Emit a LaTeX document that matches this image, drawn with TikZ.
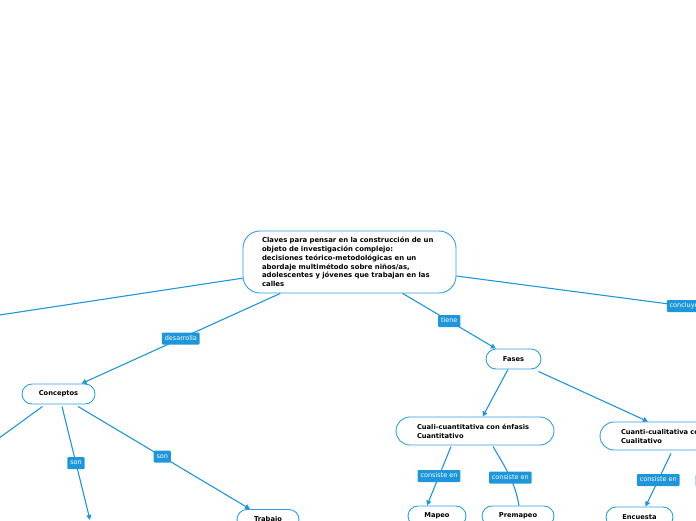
\documentclass[tikz,border=0pt]{standalone}
\usepackage{fontspec}
\setmainfont{DejaVu Sans}
\usetikzlibrary{arrows.meta}
\definecolor{lb}{RGB}{30,150,220}
\definecolor{nb}{RGB}{45,160,228}
\begin{document}
\begin{tikzpicture}[x=1pt,y=-1pt,
  box/.style={draw=nb, line width=0.9pt, fill=white, rounded corners=10pt, inner sep=0pt,
    font=\bfseries\fontsize{6.7}{8.8}\selectfont, minimum height=20pt},
  lbl/.style={fill=lb, text=white, rounded corners=1pt, font=\fontsize{6.5}{7}\selectfont,
    inner xsep=2.8pt, inner ysep=0pt, minimum height=12pt, text height=4.6pt, text depth=1.4pt},
  con/.style={draw=lb, line width=1.1pt},
  arr/.style={con, -{Triangle[length=5pt,width=5pt]}}]
\useasboundingbox (0,0) rectangle (696,520);
\clip (0,0) rectangle (696,520);

\node[box, rounded corners=17pt, minimum width=213pt, minimum height=62pt, text width=175pt, align=left,
  font=\bfseries\fontsize{6.9}{8.8}\selectfont] (main) at (349.5,262)
 {Claves para pensar en la construcción de un\\objeto de investigación complejo:\\decisiones teórico-metodológicas en un\\abordaje multimétodo sobre niños/as,\\adolescentes y jóvenes que trabajan en las\\calles};
\node[box, minimum width=73pt] (conceptos) at (58.5,394) {Conceptos};
\node[box, minimum width=55pt] (fases) at (513.5,359) {Fases};
\node[box, rounded corners=14pt, minimum width=158pt, minimum height=28pt, text width=116pt, align=left] (cuali) at (475,431)
 {Cuali-cuantitativa con énfasis\\Cuantitativo};
\node[box, rounded corners=14pt, minimum width=158pt, minimum height=28pt, text width=116pt, align=left] (cuanti) at (679,436)
 {Cuanti-cualitativa con énfasis\\Cualitativo};
\node[box, minimum width=58pt] (mapeo) at (437,516) {Mapeo};
\node[box, minimum width=72pt] (premapeo) at (518,516) {Premapeo};
\node[box, minimum width=67pt] (encuesta) at (639.5,517) {Encuesta};
\node[box, minimum width=62pt] (trabajo) at (268,519.5) {Trabajo};

\coordinate (L1) at (-40,321);
\coordinate (R1) at (760,316);
\coordinate (L2) at (-20,452);
\coordinate (B1) at (90,520);
\coordinate (R2) at (759,540);

\draw[con] (main) -- (L1);
\draw[arr] (main) -- node[lbl, pos=.5] {desarrolla} (conceptos);
\draw[arr] (main) -- node[lbl, pos=.5] {tiene} (fases);
\draw[con] (main) -- node[lbl, pos=.75] {concluye} (R1);
\draw[arr] (fases) -- (cuali);
\draw[arr] ([xshift=-3pt,yshift=-2pt]fases.south east) -- ([xshift=-31pt]cuanti.north);
\draw[arr] ([xshift=-24pt,yshift=-1pt]cuali.south) -- node[lbl, pos=.5] {consiste en} ([xshift=-10pt]mapeo.north);
\draw[con] ([xshift=18pt,yshift=-1pt]cuali.south) to[out=-60,in=100] node[lbl, pos=.55] {consiste en} ([xshift=1pt]premapeo.north);
\draw[arr] ([xshift=-8pt,yshift=-3pt]cuanti.south) -- node[lbl, pos=.5] {consiste en} ([xshift=6pt]encuesta.north);
\draw[con] ([xshift=18pt,yshift=-2pt]cuanti.south) -- node[lbl, pos=.32] {consiste en} (R2);
\draw[con] ([xshift=-16pt,yshift=-2pt]conceptos.south) -- (L2);
\draw[arr] ([xshift=3.5pt,yshift=-2pt]conceptos.south) -- node[lbl, pos=.5] {son} (B1);
\draw[arr] ([xshift=19.5pt,yshift=-2pt]conceptos.south) -- node[lbl, pos=.49] {son} ([xshift=-18pt]trabajo.north);
\end{tikzpicture}
\end{document}
